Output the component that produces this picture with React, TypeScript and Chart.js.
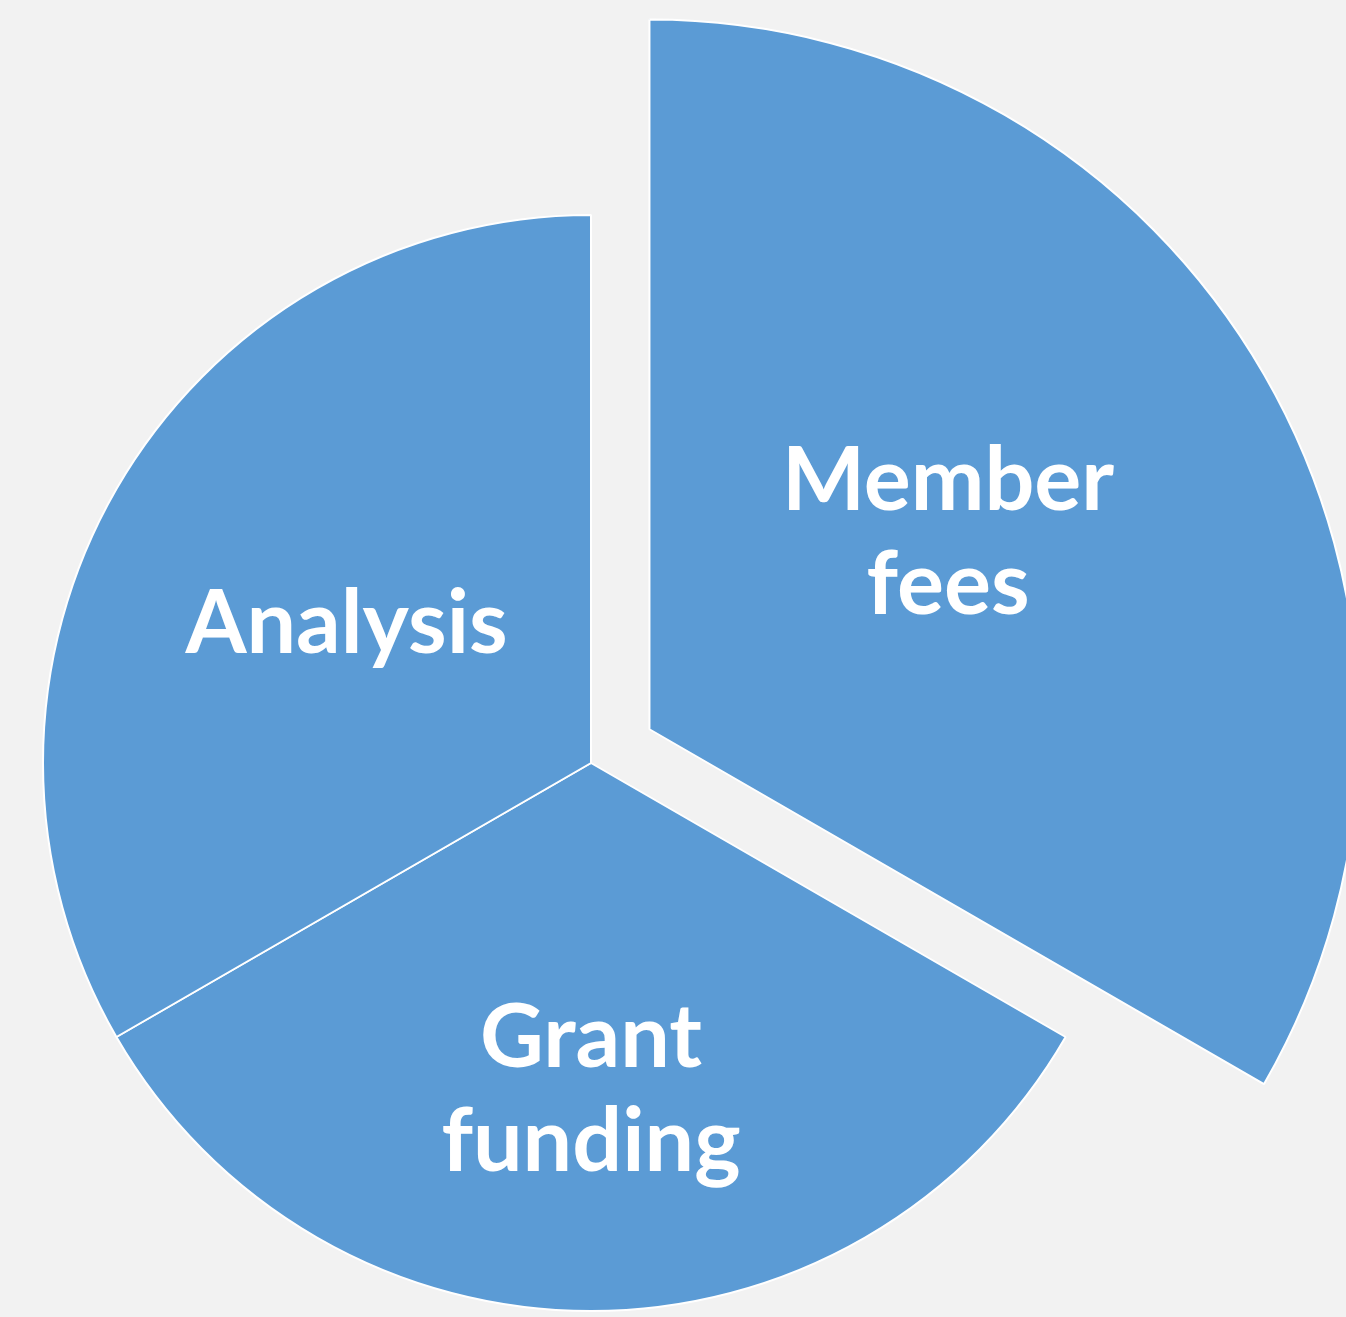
import React, { useEffect, useRef } from 'react';
import { Chart, registerables } from 'chart.js';

Chart.register(...registerables);

const categories = ['Member fees', 'Grant funding', 'Analysis'];
const labelLines = [['Member', 'fees'], ['Grant', 'funding'], ['Analysis']];
const values = [12.95, 10, 10];
const explodeDistances = [67.5, 0, 0];
const labelFractions = [0.507, 0.593, 0.515];
const labelNudges = [[-13, -19], [0, 0], [0, 0]];

const FONT_SIZE = 88;
const LINE_HEIGHT = 104;
const CAP_RATIO = 0.7165;

const explodePlugin = {
  id: 'explodeSlices',
  afterDatasetsUpdate(chart: any) {
    const meta = chart.getDatasetMeta(0);
    meta.data.forEach((arc: any, i: number) => {
      const d = explodeDistances[i] || 0;
      if (!d) return;
      const half = (arc.startAngle + arc.endAngle) / 2;
      arc.x += Math.cos(half) * d;
      arc.y += Math.sin(half) * d;
    });
  },
};

const labelPlugin = {
  id: 'sliceLabels',
  afterDatasetsDraw(chart: any) {
    const ctx = chart.ctx as CanvasRenderingContext2D;
    const meta = chart.getDatasetMeta(0);
    const capH = FONT_SIZE * CAP_RATIO;
    ctx.save();
    ctx.fillStyle = '#ffffff';
    ctx.font = `bold ${FONT_SIZE}px Lato`;
    ctx.textAlign = 'center';
    ctx.textBaseline = 'alphabetic';
    meta.data.forEach((arc: any, i: number) => {
      const { x, y, startAngle, endAngle, outerRadius } = arc;
      const half = (startAngle + endAngle) / 2;
      const r = outerRadius * labelFractions[i];
      const cx = x + Math.cos(half) * r + labelNudges[i][0];
      const cy = y + Math.sin(half) * r + labelNudges[i][1];
      const lines = labelLines[i];
      lines.forEach((line, j) => {
        const by = cy + capH / 2 + (j - (lines.length - 1) / 2) * LINE_HEIGHT;
        ctx.fillText(line, cx, by);
      });
    });
    ctx.restore();
  },
};

export default function App() {
  const ref = useRef<HTMLCanvasElement | null>(null);

  useEffect(() => {
    if (!ref.current) return;
    const chart = new Chart(ref.current, {
      type: 'polarArea',
      data: {
        labels: categories,
        datasets: [
          {
            data: values,
            backgroundColor: '#5b9bd5',
            borderColor: '#ffffff',
            borderWidth: 2,
          } as any,
        ],
      },
      options: {
        responsive: false,
        animation: false,
        devicePixelRatio: 1,
        layout: { padding: { left: 43, top: 215, right: 207, bottom: 6 } },
        plugins: {
          legend: { display: false },
          tooltip: { enabled: false },
        },
        scales: {
          r: { display: false, min: 0, max: 10, startAngle: 0 } as any,
        },
      } as any,
      plugins: [explodePlugin, labelPlugin],
    });
    return () => chart.destroy();
  }, []);

  return (
    <div
      style={{
        position: 'absolute',
        left: 0,
        top: 0,
        width: 1346,
        height: 1317,
        background: '#f2f2f2',
      }}
    >
      <canvas ref={ref} width={1346} height={1317} style={{ display: 'block' }} />
    </div>
  );
}
